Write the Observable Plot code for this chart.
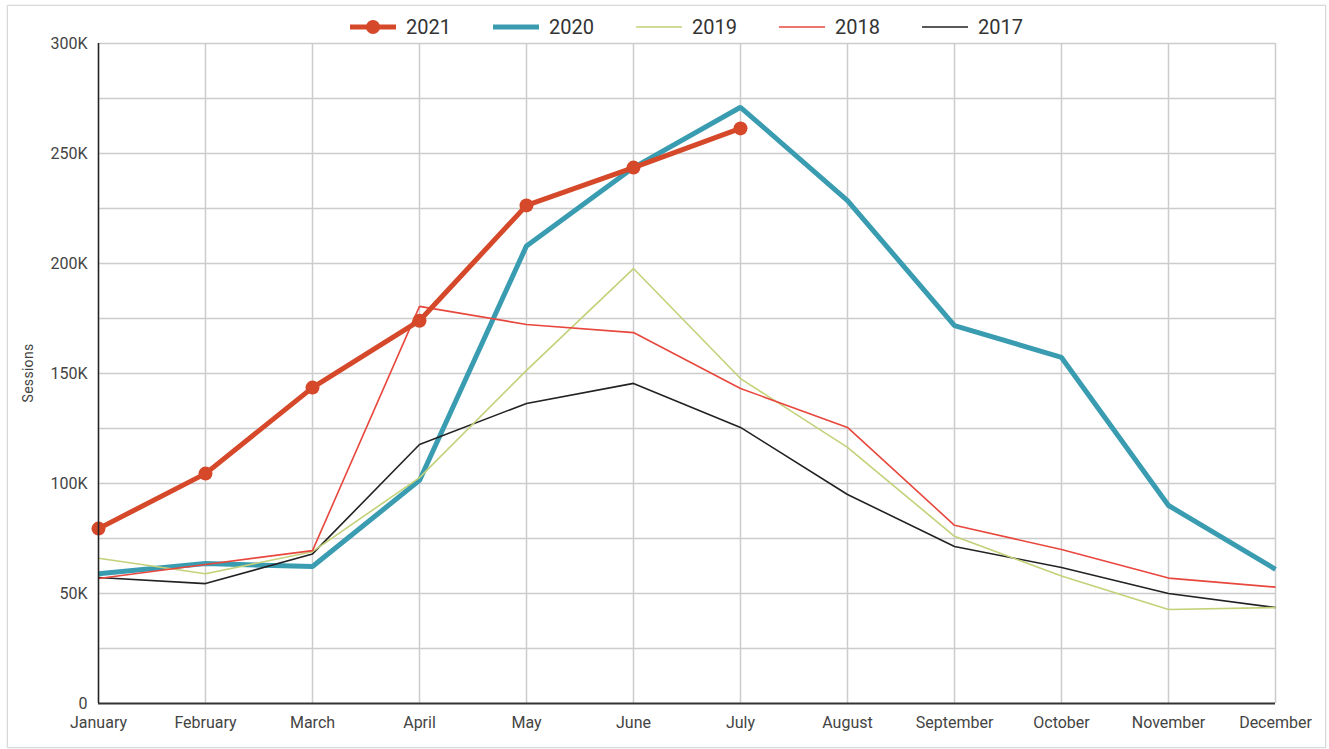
<!DOCTYPE html>
<html>
<head>
<meta charset="utf-8">
<script src="https://cdn.jsdelivr.net/npm/d3@7"></script>
<script src="https://cdn.jsdelivr.net/npm/@observablehq/plot@0.6"></script>
<style>
  html, body { margin: 0; padding: 0; background: #fff; }
  body { width: 1329px; height: 749px; position: relative; overflow: hidden; font-family: Roboto, "Noto Sans", sans-serif; }
  #frame { position: absolute; left: 7px; top: 5px; width: 1317px; height: 741px; border: 1px solid #d9d9d9; box-shadow: 0 0 2px rgba(0,0,0,0.12); }
  #chart { position: absolute; left: 0; top: 0; }
  #legend { position: absolute; left: 98px; width: 1177px; top: 15px; height: 24px; display: flex; justify-content: center; align-items: center; gap: 42px; font-size: 20px; color: #333; }
  .item { display: flex; align-items: center; gap: 10px; }
  .item svg { display: block; }
  #ylabel { position: absolute; left: 28px; top: 373px; transform: translate(-50%, -50%) rotate(-90deg); font-size: 14px; color: #444; white-space: nowrap; letter-spacing: 0.3px; }
</style>
</head>
<body>
<div id="frame"></div>
<div id="chart"></div>
<div id="legend"></div>
<div id="ylabel">Sessions</div>
<script>
const months = ["January","February","March","April","May","June","July","August","September","October","November","December"];
const years = ["2021","2020","2019","2018","2017"];
const sessions2021 = [79500, 104500, 143600, 174000, 226400, 243600, 261400];
const sessions2020 = [59000, 63600, 62300, 101400, 208000, 243600, 271000, 228600, 171800, 157300, 90000, 61000];
const sessions2019 = [66000, 59000, 69000, 102700, 151400, 197700, 147700, 116400, 76000, 58000, 42700, 43600];
const sessions2018 = [56800, 63200, 69500, 180500, 172300, 168600, 143200, 125500, 81000, 70000, 57000, 52900];
const sessions2017 = [57300, 54500, 68000, 117700, 136400, 145500, 125500, 95000, 71400, 61800, 50000, 43600];
const yTicks = [0, 50000, 100000, 150000, 200000, 250000, 300000];
const yGrid = [25000, 50000, 75000, 100000, 125000, 150000, 175000, 200000, 225000, 250000, 275000, 300000];

const colors = {"2021": "#d5482a", "2020": "#3a9cb1", "2019": "#c3d179", "2018": "#e8473d", "2017": "#222222"};
const widths = {"2021": 5, "2020": 5, "2019": 1.6, "2018": 1.6, "2017": 1.6};

const seriesValues = {"2021": sessions2021, "2020": sessions2020, "2019": sessions2019, "2018": sessions2018, "2017": sessions2017};
const rows = y => seriesValues[y].map((v, i) => ({year: y, month: months[i], value: v}));

const drawOrder = ["2020", "2017", "2019", "2018"];
const lineMarks = drawOrder.map(y => Plot.line(rows(y), {x: "month", y: "value", stroke: colors[y], strokeWidth: widths[y], strokeLinejoin: "miter", strokeLinecap: "butt"}));

const chart = Plot.plot({
  width: 1329,
  height: 749,
  marginTop: 43,
  marginBottom: 46,
  marginLeft: 98,
  marginRight: 54,
  style: {fontFamily: "Roboto, 'Noto Sans', sans-serif", fontSize: "16px", color: "#444", background: "transparent"},
  x: {type: "point", domain: months, padding: 0},
  y: {domain: [0, 300000]},
  marks: [
    Plot.gridY(yGrid, {stroke: "#cccccc", strokeOpacity: 1, strokeWidth: 1.5}),
    Plot.gridX(months, {stroke: "#cccccc", strokeOpacity: 1, strokeWidth: 1.5}),
    Plot.axisY(yTicks, {tickSize: 0, tickPadding: 11, label: null, tickFormat: d => d === 0 ? "0" : (d / 1000) + "K", fill: "#444"}),
    Plot.axisX(months, {tickSize: 0, tickPadding: 13, label: null, fill: "#444"}),
    ...lineMarks,
    Plot.line(rows("2021"), {x: "month", y: "value", stroke: colors["2021"], strokeWidth: widths["2021"], strokeLinejoin: "round"}),
    Plot.dot(rows("2021"), {x: "month", y: "value", r: 7, fill: colors["2021"], stroke: "none"}),
    Plot.ruleX([months[0]], {stroke: "#222", strokeWidth: 1.5}),
    Plot.ruleY([0], {stroke: "#333", strokeWidth: 2})
  ]
});
document.getElementById("chart").appendChild(chart);

const legend = document.getElementById("legend");
for (const y of years) {
  const item = document.createElement("div");
  item.className = "item";
  const ns = "http://www.w3.org/2000/svg";
  const svg = document.createElementNS(ns, "svg");
  svg.setAttribute("width", 46);
  svg.setAttribute("height", 20);
  const ln = document.createElementNS(ns, "line");
  ln.setAttribute("x1", 0); ln.setAttribute("x2", 46);
  ln.setAttribute("y1", 10); ln.setAttribute("y2", 10);
  ln.setAttribute("stroke", colors[y]);
  ln.setAttribute("stroke-width", widths[y]);
  svg.appendChild(ln);
  if (y === "2021") {
    const c = document.createElementNS(ns, "circle");
    c.setAttribute("cx", 23); c.setAttribute("cy", 10); c.setAttribute("r", 7);
    c.setAttribute("fill", colors[y]);
    svg.appendChild(c);
  }
  item.appendChild(svg);
  const t = document.createElement("span");
  t.textContent = y;
  item.appendChild(t);
  legend.appendChild(item);
}
</script>
</body>
</html>
